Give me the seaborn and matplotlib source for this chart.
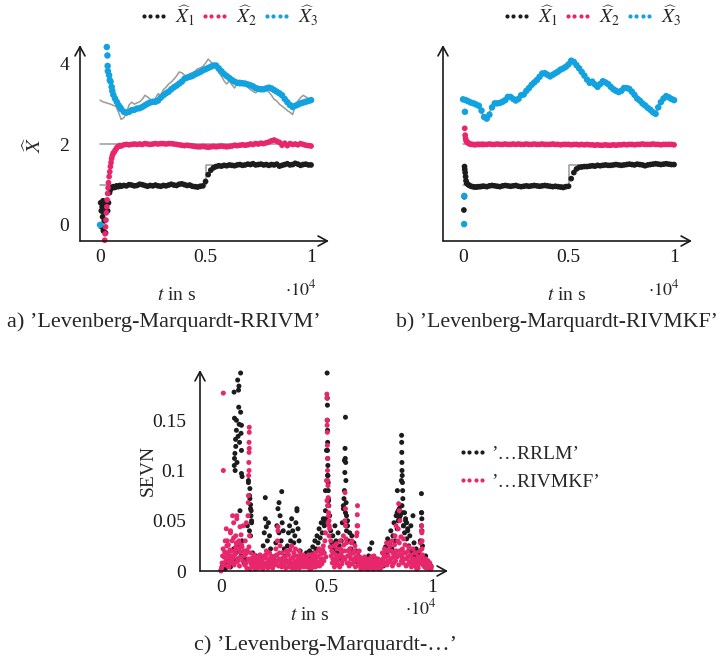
import numpy as np
import pandas as pd
import seaborn as sns
import matplotlib.pyplot as plt
from matplotlib.lines import Line2D

# ---------------- data ----------------
# sampling grids in s
t_full = np.arange(0, 10001, 125)       # 81 samples
t_steady = np.arange(1000, 10001, 125)  # 73 samples, after start-up

# true states (gray)
t_x1_true = [0, 5000, 5000, 10000]
x1_true = [1.0, 1.0, 1.5, 1.5]
t_x2_true = [0, 10000]
x2_true = [2.0, 2.0]
x3_true = [3.10, 3.06, 3.04, 3.02, 3.00, 2.97, 2.95, 2.80, 2.62, 2.66,
           2.78, 2.98, 3.05, 3.00, 3.03, 3.06, 3.12, 3.22, 3.18, 3.12,
           3.07, 3.15, 3.26, 3.22, 3.36, 3.42, 3.50, 3.55, 3.62, 3.70,
           3.80, 3.78, 3.72, 3.68, 3.76, 3.78, 3.82, 3.88, 3.90, 3.94,
           4.02, 4.12, 4.05, 3.96, 3.88, 3.78, 3.70, 3.58, 3.50, 3.58,
           3.48, 3.40, 3.52, 3.60, 3.54, 3.50, 3.42, 3.36, 3.32, 3.28,
           3.34, 3.42, 3.40, 3.38, 3.30, 3.22, 3.12, 3.08, 3.00, 2.95,
           2.90, 2.84, 2.80, 2.74, 2.95, 3.08, 3.16, 3.22, 3.18, 3.14, 3.10]

# a) Levenberg-Marquardt-RRIVM
t_a_x1_start = [30, 60, 80, 100, 120, 140, 160, 180, 200, 230, 260, 290,
                320, 360, 400, 450, 500, 560, 620, 700, 780, 860, 940]
a_x1_start = [0.55, 0.35, -0.05, 0.45, 0.20, 0.60, -0.15, 0.30, 0.10, 0.50, -0.20, 0.40,
              0.55, 0.35, 0.55, 0.80, 0.88, 0.92, 0.95, 0.93, 0.97, 0.95, 0.98]
a_x1 = [0.96, 0.98, 0.97, 1.00, 0.99, 0.97, 0.98, 1.01, 1.00, 0.98,
        0.96, 0.98, 0.97, 0.99, 0.97, 0.96, 0.98, 0.97, 0.99, 1.01,
        0.99, 0.98, 1.01, 1.02, 1.00, 0.98, 0.99, 0.96, 0.95, 0.94,
        0.96, 0.97, 1.08, 1.25, 1.36, 1.42, 1.45, 1.47, 1.46, 1.48,
        1.47, 1.49, 1.48, 1.47, 1.49, 1.50, 1.48, 1.49, 1.51, 1.50,
        1.52, 1.49, 1.50, 1.51, 1.49, 1.50, 1.48, 1.50, 1.49, 1.51,
        1.46, 1.48, 1.50, 1.52, 1.49, 1.50, 1.53, 1.51, 1.48, 1.50,
        1.51, 1.49, 1.49]
t_a_x2_start = [220, 240, 260, 280, 300, 320, 340, 360, 380, 400, 430, 460,
                490, 520, 550, 580, 620, 660, 700, 750, 800, 860, 930]
a_x2_start = [-0.38, -0.22, -0.05, 0.12, 0.30, 0.45, 0.62, 0.78, 0.92, 1.05, 1.20, 1.32,
              1.45, 1.55, 1.65, 1.72, 1.78, 1.80, 1.84, 1.88, 1.92, 1.95, 1.97]
a_x2 = [1.96, 1.99, 2.00, 1.99, 2.00, 2.01, 2.00, 2.01, 2.00, 2.02,
        2.01, 2.00, 2.01, 2.02, 2.01, 2.02, 2.02, 2.01, 2.02, 2.02,
        2.01, 2.00, 1.99, 1.98, 1.97, 1.98, 1.97, 1.96, 1.95, 1.94,
        1.94, 1.95, 1.94, 1.93, 1.94, 1.95, 1.94, 1.95, 1.96, 1.95,
        1.94, 1.95, 1.96, 1.98, 1.97, 1.98, 1.99, 1.98, 1.99, 2.01,
        2.00, 2.02, 2.01, 2.03, 2.02, 2.04, 2.06, 2.09, 2.11, 2.08,
        2.05, 1.98, 2.03, 1.97, 2.02, 2.00, 2.01, 1.99, 2.02, 2.00,
        1.98, 1.97, 1.96]
t_a_x3_start = [0, 320, 350, 360, 370, 430, 460, 500, 550, 580, 630, 710, 790, 870, 950]
a_x3_start = [0.0, 4.42, 4.21, 3.95, 3.82, 3.72, 3.60, 3.56, 3.43, 3.33, 3.23, 3.14, 3.06, 2.98, 2.92]
a_x3 = [2.88, 2.81, 2.79, 2.81, 2.85, 2.86, 2.89, 2.90, 2.93, 2.97,
        3.01, 3.04, 3.06, 3.06, 3.09, 3.16, 3.22, 3.27, 3.31, 3.37,
        3.42, 3.46, 3.51, 3.56, 3.63, 3.66, 3.68, 3.70, 3.74, 3.77,
        3.80, 3.84, 3.87, 3.90, 3.93, 3.96, 3.96, 3.89, 3.82, 3.75,
        3.70, 3.65, 3.60, 3.56, 3.53, 3.52, 3.52, 3.51, 3.49, 3.47,
        3.44, 3.40, 3.38, 3.37, 3.37, 3.39, 3.41, 3.39, 3.35, 3.31,
        3.27, 3.22, 3.13, 3.05, 2.98, 2.93, 2.96, 2.99, 3.02, 3.04,
        3.06, 3.08, 3.10]

# b) Levenberg-Marquardt-RIVMKF
t_b_x1_start = [40, 60, 70, 80, 100, 120, 140, 170, 200, 250, 300, 380,
                460, 550, 640, 730, 820, 910]
b_x1_start = [0.37, 0.70, 1.45, 1.38, 1.30, 1.20, 1.10, 1.04, 1.02, 1.00, 0.98, 0.96,
              0.95, 0.94, 0.94, 0.95, 0.95, 0.96]
b_x1 = [0.96, 0.95, 0.97, 0.98, 0.97, 0.96, 0.95, 0.97, 0.98, 0.97,
        0.96, 0.97, 0.98, 0.96, 0.95, 0.96, 0.97, 0.96, 0.97, 0.98,
        0.97, 0.96, 0.97, 0.98, 0.97, 0.96, 0.95, 0.96, 0.95, 0.94,
        0.93, 0.95, 0.96, 1.15, 1.30, 1.39, 1.43, 1.44, 1.45, 1.45,
        1.46, 1.47, 1.46, 1.48, 1.47, 1.48, 1.49, 1.48, 1.48, 1.49,
        1.50, 1.49, 1.48, 1.49, 1.50, 1.51, 1.50, 1.49, 1.51, 1.50,
        1.49, 1.47, 1.49, 1.50, 1.51, 1.52, 1.51, 1.50, 1.51, 1.52,
        1.51, 1.50, 1.50]
t_b_x2_start = [80, 100, 120, 140, 170, 200, 240, 280, 330, 400, 480, 560,
                640, 720, 800, 880, 950]
b_x2_start = [2.40, 2.23, 2.15, 2.10, 2.07, 2.05, 2.04, 2.02, 2.01, 2.00, 2.00, 1.99,
              2.00, 2.00, 2.00, 2.00, 2.00]
b_x2 = [2.00, 2.00, 2.01, 2.00, 2.00, 2.01, 2.00, 2.00, 2.01, 2.00,
        2.00, 2.01, 2.00, 2.01, 2.00, 2.00, 2.01, 2.00, 2.00, 2.01,
        2.00, 2.00, 2.01, 2.00, 2.00, 2.00, 2.01, 2.00, 2.00, 1.99,
        2.00, 2.00, 2.00, 1.99, 2.00, 2.00, 1.99, 2.00, 1.99, 2.00,
        1.99, 1.99, 1.98, 1.99, 1.98, 1.98, 1.99, 1.98, 1.98, 1.99,
        1.98, 1.99, 1.99, 2.00, 1.99, 2.00, 2.00, 1.99, 2.00, 2.00,
        2.01, 2.00, 2.00, 2.00, 2.01, 2.00, 2.00, 1.99, 2.00, 2.00,
        2.00, 2.00, 1.99]
t_b_x3_start = [50, 60, 90]
b_x3_start = [0.02, 0.72, 2.81]
b_x3 = [3.12, 3.10, 3.07, 3.04, 3.02, 2.99, 2.96, 2.84, 2.68, 2.64,
        2.74, 2.92, 3.02, 3.02, 3.03, 3.06, 3.10, 3.18, 3.18, 3.13,
        3.09, 3.13, 3.22, 3.24, 3.33, 3.40, 3.48, 3.54, 3.60, 3.68,
        3.76, 3.77, 3.73, 3.69, 3.73, 3.77, 3.81, 3.86, 3.89, 3.93,
        3.99, 4.08, 4.05, 3.97, 3.89, 3.80, 3.71, 3.61, 3.53, 3.56,
        3.49, 3.43, 3.50, 3.57, 3.54, 3.50, 3.43, 3.37, 3.33, 3.30,
        3.33, 3.40, 3.40, 3.38, 3.31, 3.23, 3.14, 3.09, 3.02, 2.97,
        2.91, 2.86, 2.80, 2.76, 2.92, 3.05, 3.14, 3.20, 3.17, 3.13, 3.10]

# c) SEVN, values in 1e-3, base samples every 50 s
t_sevn = np.arange(0, 10000, 50)
sevn_rrlm = [1, 4, 3, 7, 2, 9, 5, 6, 11, 4, 8, 14, 22, 10, 18, 25, 12, 20, 60, 15,
             30, 15, 8, 12, 20, 45, 88, 75, 62, 50, 18, 12, 8, 15, 10, 6, 12, 9, 14, 7,
             25, 38, 52, 44, 30, 48, 35, 22, 12, 8, 14, 10, 28, 45, 62, 38, 55, 30, 48, 40,
             22, 15, 10, 25, 38, 45, 30, 52, 40, 28, 35, 48, 60, 42, 30, 20, 12, 8, 15, 6,
             10, 18, 7, 12, 20, 9, 14, 24, 18, 30, 22, 35, 28, 42, 33, 48, 38, 52, 45, 80,
             120, 95, 70, 55, 40, 28, 35, 22, 45, 30, 18, 38, 25, 12, 30, 48, 65, 110, 58, 40,
             45, 30, 38, 22, 35, 18, 28, 12, 20, 9, 15, 6, 10, 4, 8, 12, 5, 9, 3, 7,
             15, 22, 10, 28, 14, 8, 5, 12, 6, 3, 9, 4, 7, 11, 5, 15, 24, 18, 32, 20,
             28, 40, 22, 35, 48, 30, 55, 42, 60, 52, 65, 90, 58, 45, 38, 50, 32, 42, 25, 35,
             45, 20, 55, 28, 15, 22, 10, 18, 8, 30, 58, 25, 12, 6, 15, 4, 10, 7, 3, 5]
sevn_rivmkf = [0, 8, 22, 14, 30, 18, 5, 26, 12, 40, 20, 9, 33, 16, 24, 52, 11, 28, 19, 36,
               24, 45, 15, 30, 8, 20, 12, 35, 18, 6, 10, 4, 14, 7, 12, 3, 9, 16, 5, 11,
               8, 15, 4, 20, 12, 6, 18, 9, 14, 3, 10, 7, 22, 16, 40, 12, 25, 8, 18, 11,
               6, 14, 20, 9, 16, 4, 12, 25, 7, 18, 10, 3, 15, 8, 20, 12, 5, 10, 16, 7,
               12, 4, 9, 16, 6, 11, 3, 14, 8, 18, 10, 5, 15, 22, 9, 17, 12, 25, 18, 38,
               90, 65, 55, 42, 30, 20, 12, 25, 8, 16, 22, 6, 14, 30, 18, 10, 35, 20, 45, 28,
               15, 8, 22, 12, 30, 18, 9, 25, 14, 45, 10, 20, 6, 12, 4, 9, 14, 3, 8, 11,
               5, 12, 8, 3, 10, 15, 6, 9, 4, 12, 7, 2, 10, 18, 6, 22, 14, 28, 10, 20,
               25, 12, 30, 18, 8, 35, 20, 14, 42, 28, 16, 10, 22, 32, 12, 18, 6, 14, 24, 9,
               15, 8, 22, 12, 5, 18, 10, 3, 14, 28, 40, 16, 9, 4, 12, 6, 10, 3, 8, 2]
# second half-step pass of the estimator (t + 25 s), fills the low band
t_sevn_half = np.arange(25, 10000, 50)
sevn_rivmkf_half = [3, 15, 6, 19, 10, 25, 14, 4, 21, 8, 30, 13, 6, 18, 28, 9, 22, 5, 14, 26,
                    10, 20, 6, 17, 3, 11, 24, 2, 8, 13, 5, 16, 2, 10, 6, 14, 4, 11, 7, 2,
                    13, 5, 16, 8, 3, 12, 6, 15, 4, 11, 6, 15, 9, 30, 5, 18, 10, 4, 13, 6,
                    12, 3, 9, 17, 5, 21, 8, 3, 14, 6, 22, 9, 5, 12, 3, 16, 8, 14, 4, 11,
                    6, 14, 4, 10, 2, 16, 8, 5, 12, 4, 14, 8, 20, 5, 12, 7, 21, 10, 30, 14,
                    70, 48, 35, 24, 15, 8, 18, 4, 12, 27, 10, 15, 4, 22, 7, 14, 26, 12, 32, 8,
                    20, 5, 16, 28, 7, 12, 20, 4, 35, 18, 6, 14, 2, 8, 11, 3, 7, 12, 5, 2,
                    9, 4, 14, 6, 2, 8, 11, 3, 7, 5, 10, 4, 6, 12, 16, 8, 20, 6, 15, 28,
                    9, 20, 5, 14, 26, 10, 16, 30, 6, 20, 34, 14, 8, 18, 26, 5, 12, 20, 8, 16,
                    4, 12, 6, 18, 9, 2, 14, 7, 20, 10, 22, 6, 12, 8, 3, 9, 5, 7, 2, 4]
# extra samples inside the peaks
t_rrlm_peaks = [930, 790, 850, 830, 620, 840, 930, 640, 730, 860, 970, 730, 950,
                690, 700, 970, 660, 640, 630, 670, 970, 1000, 880, 760, 810,
                1300, 1370, 1370, 1400, 1430, 1420, 1450, 1350, 1400,
                2100, 2880, 2750, 3600,
                5030, 5040, 5045, 5040, 5050, 5055, 5050, 5060, 5065, 5070, 5080, 5085,
                5090, 5110, 4950, 4980, 4900,
                5900, 5880, 5890, 5910, 5870, 5920, 5850, 5830, 5930, 5800, 5950, 6000,
                8560, 8565, 8570, 8575, 8580, 8590, 8600, 8610, 8620, 8580,
                8450, 8360, 8350, 8500, 8700, 8750, 8800, 8650, 8400, 8850,
                9500, 9510, 9520, 9505, 9525]
sevn_rrlm_peaks = [197, 190, 184, 180, 178, 163, 158, 152, 150, 146, 145, 140, 137,
                   131, 124, 120, 117, 112, 105, 100, 97, 94, 128, 108, 134,
                   90, 82, 72, 66, 60, 55, 48, 40, 35,
                   73, 79, 68, 62,
                   197, 172, 165, 150, 140, 128, 120, 112, 105, 95, 88, 80,
                   72, 65, 60, 52, 48,
                   153, 122, 112, 108, 98, 90, 80, 72, 68, 62, 55, 50,
                   135, 128, 118, 108, 100, 95, 88, 80, 72, 65,
                   62, 80, 58, 55, 58, 52, 48, 45, 50, 40,
                   77, 58, 52, 45, 40]
t_rivmkf_peaks = [110, 110, 300, 250, 450, 550, 600, 700, 750, 850, 900, 950, 500, 650, 800, 400, 350,
                  1340, 1340, 1330, 1340, 1330, 1320, 1330, 1310, 1300, 1290, 1280, 1200,
                  5020, 5020, 5030, 5030, 5040, 5040, 5050, 5050, 5060, 5070, 5080, 5090, 5100, 5120, 5130,
                  5880, 5900, 5870,
                  6470, 6460, 6480, 6450,
                  8420, 8450, 8480, 8300,
                  9510, 9520, 9530,
                  2700]
sevn_rivmkf_peaks = [177, 100, 30, 42, 38, 55, 48, 35, 55, 30, 44, 25, 15, 20, 12, 8, 18,
                     143, 138, 128, 122, 118, 108, 100, 95, 75, 68, 55, 48,
                     176, 172, 150, 145, 138, 125, 112, 100, 90, 85, 73, 65, 58, 50, 45,
                     78, 62, 50,
                     65, 56, 45, 38,
                     67, 60, 50, 45,
                     45, 38, 30,
                     44]

BLACK = '#1c1c1c'
PINK = '#e8266b'
BLUE = '#12a2e0'
GRAY = '#9a9a9a'

# ---------------- style ----------------
sns.set_theme(style='white')
plt.rcParams['font.family'] = ['Liberation Serif', 'DejaVu Serif']
plt.rcParams['mathtext.fontset'] = 'stix'

W, H = 723, 660
fig = plt.figure(figsize=(W / 100, H / 100), dpi=100)


def fx(px):
    return px / W


def fy(py):
    return 1 - py / H


def arrow_axes(ax, xticks, yticks, ylabels):
    for s in ax.spines.values():
        s.set_visible(False)
    kw = dict(arrowstyle='->,head_length=0.55,head_width=0.3', color='#1a1a1a',
              lw=1.2, shrinkA=0, shrinkB=0)
    ax.annotate('', xy=(1, 0), xytext=(0, 0), xycoords='axes fraction',
                arrowprops=kw, annotation_clip=False)
    ax.annotate('', xy=(0, 1), xytext=(0, 0), xycoords='axes fraction',
                arrowprops=kw, annotation_clip=False)
    ax.set_xticks(xticks)
    ax.set_xticklabels(['0', '0.5', '1'])
    ax.set_yticks(yticks)
    ax.set_yticklabels(ylabels)
    ax.tick_params(axis='both', direction='in', length=6, width=0.9,
                   color='#a8a8a8', labelsize=14, labelcolor='#1a1a1a')
    ax.tick_params(axis='x', pad=6)
    ax.tick_params(axis='y', pad=8)
    ax.set_xlabel('')
    ax.set_ylabel('')


def dots(ax, t_start, v_start, t_main, v_main, color, size=17):
    t = np.concatenate([np.asarray(t_start, float), np.asarray(t_main, float)]) / 1e4
    v = np.concatenate([np.asarray(v_start, float), np.asarray(v_main, float)])
    sns.scatterplot(x=t, y=v, color=color, s=size, linewidth=0, edgecolor='none',
                    ax=ax, legend=False, zorder=3, clip_on=False)


def truth(ax, t, v):
    sns.lineplot(x=np.asarray(t, float) / 1e4, y=v, color=GRAY, lw=1.1,
                 estimator=None, sort=False, ax=ax, legend=False, zorder=2)


# ---------------- panels a, b ----------------
ax_a = fig.add_axes([fx(80), fy(241), (329 - 80) / W, 196 / H])
ax_b = fig.add_axes([fx(443), fy(241), (692 - 443) / W, 196 / H])

panels = [
    (ax_a, (t_a_x1_start, a_x1_start, a_x1), (t_a_x2_start, a_x2_start, a_x2),
     (t_a_x3_start, a_x3_start, t_steady, a_x3), ['0', '2', '4']),
    (ax_b, (t_b_x1_start, b_x1_start, b_x1), (t_b_x2_start, b_x2_start, b_x2),
     (t_b_x3_start, b_x3_start, t_full, b_x3), ['', '', '']),
]
for ax, p1, p2, p3, ylab in panels:
    truth(ax, t_x1_true, x1_true)
    truth(ax, t_x2_true, x2_true)
    truth(ax, t_full, x3_true)
    dots(ax, p1[0], p1[1], t_steady, p1[2], BLACK)
    dots(ax, p2[0], p2[1], t_steady, p2[2], PINK)
    dots(ax, p3[0], p3[1], p3[2], p3[3], BLUE, size=22)
    ax.set_xlim(-0.095, 1.085)
    ax.set_ylim(-0.4, 4.47)
    arrow_axes(ax, [0, 0.5, 1], [0, 2, 4], ylab)

    handles = [Line2D([], [], ls='none', marker='o', ms=3.0, mew=0, color=c)
               for c in (BLACK, PINK, BLUE)]
    ax.legend(handles, [r'$\widehat{X}_1$', r'$\widehat{X}_2$', r'$\widehat{X}_3$'],
              ncol=3, numpoints=4, handlelength=1.6, handletextpad=0.3,
              columnspacing=0.2, frameon=False, fontsize=14, loc='center',
              bbox_to_anchor=(0.595, 1.15), borderpad=0, borderaxespad=0)

fig.text(fx(35), fy(145), r'$\widehat{X}$', rotation=90, ha='center', va='center', fontsize=15)
for cx, ex in ((177, 301), (567, 664)):
    fig.text(fx(cx), fy(296), '$t$ in s', ha='center', va='center', fontsize=14)
    fig.text(fx(ex), fy(289), r'$\cdot10^{4}$', ha='center', va='center', fontsize=13)
fig.text(fx(164), fy(322), 'a) ’Levenberg-Marquardt-RRIVM’', ha='center', va='center', fontsize=16)
fig.text(fx(557), fy(322), 'b) ’Levenberg-Marquardt-RIVMKF’', ha='center', va='center', fontsize=15.7)

# ---------------- panel c ----------------
ax_c = fig.add_axes([fx(200), fy(571), (448 - 200) / W, 201 / H])
dots(ax_c, t_sevn, np.array(sevn_rrlm) / 1000, t_rrlm_peaks,
     np.array(sevn_rrlm_peaks) / 1000, BLACK, size=13)
dots(ax_c, t_sevn, np.array(sevn_rivmkf) / 1000, t_rivmkf_peaks,
     np.array(sevn_rivmkf_peaks) / 1000, PINK, size=13)
dots(ax_c, [], [], t_sevn_half, np.array(sevn_rivmkf_half) / 1000, PINK, size=13)
ax_c.set_xlim(-0.0995, 1.076)
ax_c.set_ylim(0, 0.2)
arrow_axes(ax_c, [0, 0.5, 1], [0, 0.05, 0.1, 0.15], ['0', '0.05', '0.1', '0.15'])
ax_c.tick_params(axis='y', pad=10)
handles = [Line2D([], [], ls='none', marker='o', ms=3.0, mew=0, color=c) for c in (BLACK, PINK)]
ax_c.legend(handles, ['’…RRLM’', '’…RIVMKF’'], numpoints=4, handlelength=1.6,
            handletextpad=0.15, labelspacing=0.55, frameon=False, fontsize=14,
            loc='upper left', bbox_to_anchor=(fx(457), fy(445)),
            bbox_transform=fig.transFigure, borderpad=0, borderaxespad=0)
fig.text(fx(148), fy(470), 'SEVN', rotation=90, ha='center', va='center', fontsize=14)
fig.text(fx(310), fy(616), '$t$ in s', ha='center', va='center', fontsize=14)
fig.text(fx(421), fy(608), r'$\cdot10^{4}$', ha='center', va='center', fontsize=13)
fig.text(fx(325), fy(645), 'c) ’Levenberg-Marquardt-…’', ha='center', va='center', fontsize=16)

fig.savefig('out.png', dpi=100)
